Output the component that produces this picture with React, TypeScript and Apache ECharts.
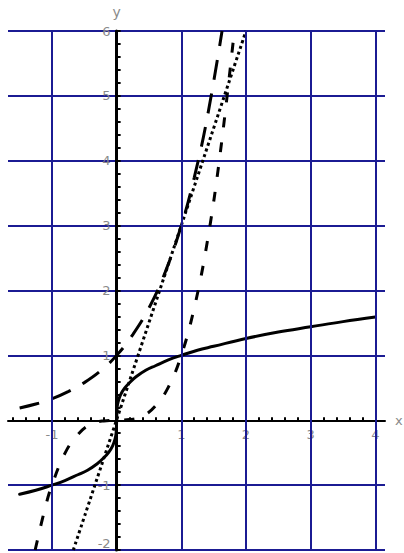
import React, { useEffect, useRef } from "react";
import * as echarts from "echarts";

// axis / tick values
const X_MIN = -1.68;
const X_MAX = 4.15;
const Y_MIN = -2;
const Y_MAX = 6;
const X_LABELS = [-1, 1, 2, 3, 4];
const X_GRID = [-1, 1, 2, 3, 4];
const X_TICKS = [-1.6, -1.4, -1.2, -1, -0.8, -0.6, -0.4, -0.2, 0.2, 0.4, 0.6, 0.8, 1, 1.2, 1.4, 1.6, 1.8, 2, 2.2, 2.4, 2.6, 2.8, 3, 3.2, 3.4, 3.6, 3.8, 4];

// y = cube root of x (solid)
const cbrtX = [-1.5, -1.25, -1, -0.8, -0.6, -0.45, -0.3, -0.2, -0.12, -0.06, -0.025, -0.008, 0, 0.008, 0.025, 0.06, 0.12, 0.2, 0.3, 0.45, 0.6, 0.8, 1, 1.25, 1.5, 2, 2.5, 3, 3.5, 4];
const cbrtY = [-1.14, -1.08, -1, -0.93, -0.84, -0.77, -0.67, -0.58, -0.49, -0.39, -0.29, -0.2, 0, 0.2, 0.29, 0.39, 0.49, 0.58, 0.67, 0.77, 0.84, 0.93, 1, 1.08, 1.14, 1.26, 1.36, 1.44, 1.52, 1.59];

// y = 3^x (long dashes)
const expX = [-1.5, -1.25, -1, -0.75, -0.5, -0.25, 0, 0.25, 0.5, 0.75, 1, 1.2, 1.4, 1.63];
const expY = [0.19, 0.25, 0.33, 0.44, 0.58, 0.76, 1, 1.32, 1.73, 2.28, 3, 3.74, 4.66, 6];

// y = x^3 (short dashes)
const cubeX = [-1.26, -1.1, -1, -0.8, -0.6, -0.4, -0.2, 0, 0.2, 0.4, 0.6, 0.8, 1, 1.2, 1.4, 1.6, 1.82];
const cubeY = [-2, -1.33, -1, -0.51, -0.22, -0.06, -0.01, 0, 0.01, 0.06, 0.22, 0.51, 1, 1.73, 2.74, 4.1, 6];

// y = 3x (dotted)
const linX = [-0.67, 2];
const linY = [-2, 6];

const zip = (xs: number[], ys: number[]) => xs.map((x, i) => [x, ys[i]]);

const GRID_BLUE = "#1b1b93";
const LABEL_GRAY = "#8a8a8a";

const W = 404;
const H = 553;
const G_LEFT = 8;
const G_RIGHT = 19;
const G_TOP = 31;
const G_BOTTOM = 3;

export default function App() {
  const ref = useRef<HTMLDivElement>(null);
  useEffect(() => {
    if (!ref.current) return;
    const chart = echarts.init(ref.current, null, { renderer: "svg" });
    const gw = W - G_LEFT - G_RIGHT;
    const gh = H - G_TOP - G_BOTTOM;
    // place the axes through the origin
    const xOffset = -((0 - Y_MIN) / (Y_MAX - Y_MIN)) * gh;
    const yOffset = -((0 - X_MIN) / (X_MAX - X_MIN)) * gw;
    const curve = (data: number[][], type: any, cap: any = "butt") => ({
      type: "line",
      data,
      showSymbol: false,
      symbol: "none",
      smooth: 0.4,
      z: 3,
      lineStyle: { color: "#000", width: 3, type, cap },
    });
    chart.setOption({
      animation: false,
      grid: { left: G_LEFT, right: G_RIGHT, top: G_TOP, bottom: G_BOTTOM, containLabel: false, outerBoundsMode: "none" },
      xAxis: {
        type: "value",
        min: X_MIN,
        max: X_MAX,
        position: "bottom",
        offset: xOffset,
        z: 1,
        name: "x",
        nameLocation: "end",
        nameGap: 10,
        nameTextStyle: { color: LABEL_GRAY, fontSize: 13, fontFamily: "DejaVu Sans", verticalAlign: "middle" },
        axisLine: { onZero: false, lineStyle: { color: "#000", width: 2 } },
        axisTick: { show: true, inside: true, length: 3, customValues: X_TICKS, lineStyle: { color: "#000", width: 2 } },
        axisLabel: { customValues: X_LABELS, color: LABEL_GRAY, fontSize: 13, fontFamily: "DejaVu Sans", margin: 8 },
        splitLine: { show: false },
      },
      yAxis: {
        type: "value",
        min: Y_MIN,
        max: Y_MAX,
        interval: 1,
        position: "left",
        offset: yOffset,
        name: "y",
        nameLocation: "end",
        nameGap: 12,
        nameTextStyle: { color: LABEL_GRAY, fontSize: 14, fontFamily: "DejaVu Sans" },
        axisLine: { onZero: false, lineStyle: { color: "#000", width: 3 } },
        axisTick: { show: true, inside: true, length: 4, lineStyle: { color: "#000", width: 2 } },
        minorTick: { show: true, splitNumber: 5, length: 4, lineStyle: { color: "#000", width: 2 } },
        axisLabel: {
          color: LABEL_GRAY,
          fontSize: 13,
          fontFamily: "DejaVu Sans",
          margin: 6,
          verticalAlignMinLabel: "bottom",
          formatter: (v: number) => (v === 0 ? "" : String(v)),
        },
        splitLine: { show: true, lineStyle: { color: GRID_BLUE, width: 2 } },
      },
      series: [
        {
          type: "line",
          data: [],
          z: 0,
          silent: true,
          markLine: {
            silent: true,
            symbol: "none",
            label: { show: false },
            lineStyle: { color: GRID_BLUE, width: 2, type: "solid" },
            data: X_GRID.map((v) => ({ xAxis: v })),
          },
        },
        curve(zip(cbrtX, cbrtY), "solid", "round"),
        curve(zip(expX, expY), [20, 14]),
        curve(zip(cubeX, cubeY), [10, 15]),
        curve(zip(linX, linY), [3, 3]),
      ],
    });
    return () => chart.dispose();
  }, []);
  return (
    <div
      ref={ref}
      style={{ position: "fixed", left: 0, top: 0, width: W, height: H, background: "#fff" }}
    />
  );
}
